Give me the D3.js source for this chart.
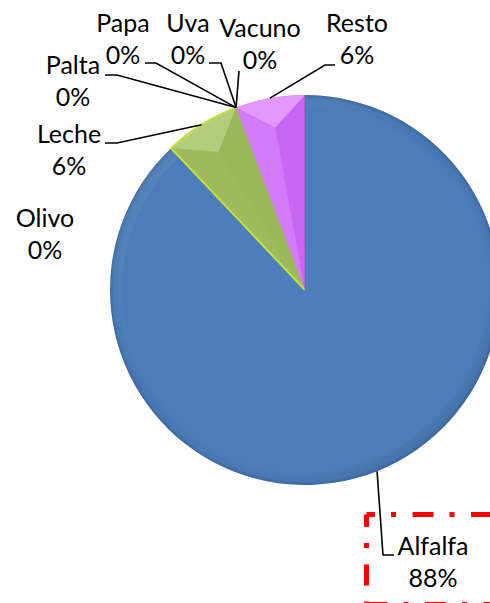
<!DOCTYPE html>
<html><head><meta charset="utf-8">
<script src="https://cdn.jsdelivr.net/npm/d3@7"></script>
<style>body{margin:0;background:#fff}svg{display:block}</style>
</head><body>
<svg id="chart" width="490" height="603"></svg>
<script>
// ---- data ----
const categories = ["Alfalfa", "Olivo", "Leche", "Palta", "Papa", "Uva", "Vacuno", "Resto"];
const values = [87.95, 0, 6.3, 0, 0, 0, 0, 5.75];
const sliceColors = ["#4A7DBA", "#C0504D", "#9BBB59", "#8064A2", "#4BACC6", "#F79646", "#2C4D75", "#CF6CF8"];

// ---- layout (label placement, not data) ----
const labelLayout = {
  Alfalfa: {x: 433, y: 555, elbow: [383, 555], stub: [394, 555]},
  Olivo:   {x: 45,  y: 227},
  Leche:   {x: 69,  y: 143, elbow: [117, 143], stub: [105, 143]},
  Palta:   {x: 73,  y: 74,  elbow: [117, 75],  stub: [105, 75]},
  Papa:    {x: 123, y: 32,  elbow: [156, 63],  stub: [145, 63]},
  Uva:     {x: 188, y: 32,  elbow: [221, 63],  stub: [209, 63]},
  Vacuno:  {x: 260, y: 37,  elbow: [239, 71],  stub: [239, 71]},
  Resto:   {x: 357, y: 32,  elbow: [325, 65],  stub: [335, 65]}
};
const cx = 305, cy = 290, R = 195, lineGap = 32;

const data = categories.map((c, i) => ({name: c, value: values[i], color: sliceColors[i]}));
const total = d3.sum(values);
const pct = d3.format(".0%");

const svg = d3.select("#chart");
const defs = svg.append("defs");

const rg = defs.append("radialGradient").attr("id", "alfGrad")
  .attr("gradientUnits", "userSpaceOnUse").attr("cx", 0).attr("cy", 0).attr("r", R);
rg.append("stop").attr("offset", "0%").attr("stop-color", "#4C7FBC");
rg.append("stop").attr("offset", "93%").attr("stop-color", "#4A7DBA");
rg.append("stop").attr("offset", "98%").attr("stop-color", "#4676B3");
rg.append("stop").attr("offset", "100%").attr("stop-color", "#3A669F");

const lg = defs.append("linearGradient").attr("id", "rimLight")
  .attr("x1", "0").attr("y1", "0").attr("x2", "1").attr("y2", "1");
lg.append("stop").attr("offset", "0%").attr("stop-color", "#fff").attr("stop-opacity", 0.10);
lg.append("stop").attr("offset", "45%").attr("stop-color", "#fff").attr("stop-opacity", 0);
lg.append("stop").attr("offset", "100%").attr("stop-color", "#000").attr("stop-opacity", 0.10);

const g = svg.append("g").attr("transform", `translate(${cx},${cy})`);

const pie = d3.pie().sort(null).value(d => d.value).startAngle(0).endAngle(2 * Math.PI);
const arcs = pie(data);
const arcGen = d3.arc().innerRadius(0).outerRadius(R);
const pt = (a, r) => [r * Math.sin(a), -r * Math.cos(a)];

// base slices
g.selectAll("path.slice").data(arcs.filter(d => d.endAngle > d.startAngle)).join("path")
  .attr("class", "slice")
  .attr("d", arcGen)
  .attr("fill", d => d.data.name === "Alfalfa" ? "url(#alfGrad)" : d.data.color);

// soft rim light/shadow on the big slice
const ringGen = d3.arc().innerRadius(R - 12).outerRadius(R);
g.append("path").datum(arcs[0]).attr("d", ringGen).attr("fill", "url(#rimLight)");

// bevel facets for small slices
const facetShade = {Leche: ["#9dbb5c", "#99b857", "#b4cd7c"], Resto: ["#d37af8", "#c966f3", "#e298fd"]};
arcs.filter(d => d.endAngle > d.startAngle && d.endAngle - d.startAngle < Math.PI).forEach(d => {
  const sh = facetShade[d.data.name];
  if (!sh) return;
  const a0 = d.startAngle, a1 = d.endAngle, am = (a0 + a1) / 2, half = (a1 - a0) / 2;
  const kr = R / (1 + Math.sin(half));
  const k = pt(am, kr), s = pt(a0, R), e = pt(a1, R);
  g.append("path").attr("d", `M0,0L${s}L${k}Z`).attr("fill", sh[0]);
  g.append("path").attr("d", `M0,0L${e}L${k}Z`).attr("fill", sh[1]);
  const p = d3.path();
  p.moveTo(...s);
  p.arc(0, 0, R, a0 - Math.PI / 2, a1 - Math.PI / 2, false);
  p.lineTo(...k); p.closePath();
  g.append("path").attr("d", p.toString()).attr("fill", sh[2]);
});

// yellow-green edge on Leche
const leche = arcs[2];
{
  const p = d3.path();
  p.moveTo(0, 0); p.lineTo(...pt(leche.startAngle, R));
  p.arc(0, 0, R, leche.startAngle - Math.PI / 2, leche.endAngle - Math.PI / 2, false);
  g.append("path").attr("d", p.toString()).attr("fill", "none")
    .attr("stroke", "#C4E03A").attr("stroke-width", 2);
}
// thin separation line between Resto and Alfalfa
g.append("line").attr("x1", 0).attr("y1", 0).attr("x2", 0).attr("y2", -R)
  .attr("stroke", "#8a4aa8").attr("stroke-width", 1).attr("stroke-opacity", 0.6);

// leader lines
const leaders = svg.append("g").attr("fill", "none").attr("stroke", "#000").attr("stroke-width", 1.6);
arcs.forEach(d => {
  const L = labelLayout[d.data.name];
  if (!L.elbow) return;
  const am = (d.startAngle + d.endAngle) / 2;
  const a = pt(am, R);
  const anchor = [cx + a[0], cy + a[1]];
  leaders.append("path").attr("d", d3.line()([anchor, L.elbow, L.stub]));
});

// labels
const labels = svg.append("g").attr("font-family", "Lato, 'Open Sans', sans-serif")
  .attr("font-size", 25).attr("fill", "#000").attr("text-anchor", "middle");
arcs.forEach(d => {
  const L = labelLayout[d.data.name];
  const t = labels.append("text").attr("x", L.x).attr("y", L.y);
  t.append("tspan").attr("x", L.x).attr("y", L.y).text(d.data.name);
  t.append("tspan").attr("x", L.x).attr("y", L.y + lineGap).text(pct(d.data.value / total));
});

// red dash-dot frame around the Alfalfa label
const frame = svg.append("g").attr("stroke", "#FF0000").attr("stroke-width", 5)
  .attr("stroke-dasharray", "21 16 5 16.5");
frame.append("line").attr("x1", 366.5).attr("y1", 514.5).attr("x2", 500).attr("y2", 514.5)
  .attr("stroke-dashoffset", 12.5);
frame.append("line").attr("x1", 366.5).attr("y1", 514.5).attr("x2", 366.5).attr("y2", 604.5)
  .attr("stroke-dashoffset", 8.5);
frame.append("line").attr("x1", 366.5).attr("y1", 604.5).attr("x2", 500).attr("y2", 604.5)
  .attr("stroke-dashoffset", 0);
</script>
</body></html>
